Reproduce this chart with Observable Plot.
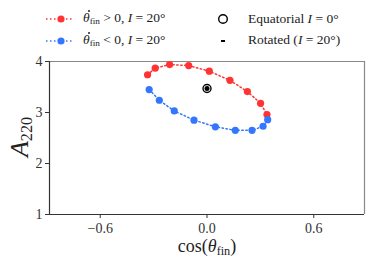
<!DOCTYPE html>
<html><head><meta charset="utf-8">
<script src="https://cdn.jsdelivr.net/npm/d3@7"></script>
<script src="https://cdn.jsdelivr.net/npm/@observablehq/plot@0.6"></script>
<style>
body{margin:0;background:#fff;}
#wrap{position:relative;width:374px;height:269px;font-family:"Liberation Serif","DejaVu Serif",serif;color:#222;}
.ov{position:absolute;white-space:nowrap;}
i{font-style:italic;}
sub{font-size:0.68em;vertical-align:-0.25em;line-height:0;}
.td{position:relative;display:inline-block;}
.td::after{content:"";position:absolute;left:0.36em;top:0.02em;width:2px;height:2px;border-radius:1px;background:#222;}
</style></head>
<body><div id="wrap"></div>
<script>
const posX = [-0.334,-0.291,-0.210,-0.103,0.013,0.129,0.227,0.301,0.337];
const posY = [3.74,3.87,3.94,3.92,3.81,3.63,3.41,3.18,2.96];
const negX = [-0.325,-0.268,-0.184,-0.073,0.047,0.159,0.253,0.315,0.341];
const negY = [3.45,3.24,3.03,2.85,2.72,2.65,2.65,2.73,2.86];
const eqX = [0.0], eqY = [3.47];
const rotX = [0.0], rotY = [3.47];
const xTicks = [-0.6,0,0.6];
const yTicks = [1,2,3,4];
const xDom = [-0.885,0.885], yDom = [1,4];
const red = "#ff3333", blue = "#3377ff";

const pos = posX.map((x,i)=>({x,y:posY[i]}));
const neg = negX.map((x,i)=>({x,y:negY[i]}));
const eq = eqX.map((x,i)=>({x,y:eqY[i]}));
const rot = rotX.map((x,i)=>({x,y:rotY[i]}));
const xf = d=>d===0?"0.0":d3.format(".1f")(d).replace("-","−");

const chart = Plot.plot({
  width:374, height:269,
  marginLeft:49, marginRight:10, marginTop:61, marginBottom:55,
  x:{domain:xDom, label:null},
  y:{domain:yDom, label:null},
  style:{fontFamily:"Liberation Serif, DejaVu Serif, serif", fontSize:"14px", color:"#333", background:"#fff"},
  marks:[
    Plot.axisX({ticks:xTicks, tickSize:4, tickPadding:5, fontSize:14, label:null, tickFormat:xf, stroke:"#333"}),
    Plot.axisY({ticks:yTicks, tickSize:4, tickPadding:3, fontSize:14, label:null, tickFormat:d3.format("d"), stroke:"#333"}),
    Plot.ruleY([yDom[1]], {stroke:"#888", strokeWidth:1.2}),
    Plot.ruleX([xDom[1]], {stroke:"#888", strokeWidth:1.2}),
    Plot.ruleX([xDom[0]], {stroke:"#333", strokeWidth:1.2}),
    Plot.ruleY([yDom[0]], {stroke:"#333", strokeWidth:1.2}),
    Plot.line(pos, {x:"x", y:"y", stroke:red, strokeWidth:1.5, strokeDasharray:"1.5,2.5"}),
    Plot.line(neg, {x:"x", y:"y", stroke:blue, strokeWidth:1.5, strokeDasharray:"1.5,2.5"}),
    Plot.dot(pos, {x:"x", y:"y", r:3.6, fill:red}),
    Plot.dot(neg, {x:"x", y:"y", r:3.6, fill:blue}),
    Plot.dot(eq, {x:"x", y:"y", r:4, stroke:"#000", strokeWidth:1.4, fill:"none"}),
    Plot.dot(rot, {x:"x", y:"y", r:2.5, fill:"#000"})
  ]
});
const wrap = document.getElementById("wrap");
wrap.appendChild(chart);
chart.style.position="absolute"; chart.style.left="0"; chart.style.top="0";

function add(html, css){const d=document.createElement("div");d.className="ov";d.innerHTML=html;Object.assign(d.style,css);wrap.appendChild(d);return d;}
function legLine(color, top){
  const s=`<svg width="30" height="10" style="position:absolute;left:45px;top:${top}px"><line x1="1" y1="5" x2="29" y2="5" stroke="${color}" stroke-width="1.5" stroke-dasharray="1.5,2.5"/><circle cx="16" cy="5" r="3.6" fill="${color}"/></svg>`;
  wrap.insertAdjacentHTML("beforeend", s);
}
legLine(red, 14); legLine(blue, 36);
const thetaDot = `<span class="td"><i>θ</i></span>`;
add(`${thetaDot}<sub>fin</sub> &gt; 0, <i>I</i> = 20°`, {left:"83px", top:"10px", fontSize:"13.5px"});
add(`${thetaDot}<sub>fin</sub> &lt; 0, <i>I</i> = 20°`, {left:"83px", top:"32px", fontSize:"13.5px"});
wrap.insertAdjacentHTML("beforeend", `<svg width="14" height="14" style="position:absolute;left:216px;top:12px"><circle cx="7" cy="7" r="4.3" fill="none" stroke="#000" stroke-width="1.4"/></svg>`);
wrap.insertAdjacentHTML("beforeend", `<svg width="14" height="14" style="position:absolute;left:216px;top:34px"><rect x="5" y="6" width="4" height="2" fill="#000"/></svg>`);
add(`Equatorial <i>I</i> = 0°`, {left:"248px", top:"11px", fontSize:"13.5px"});
add(`Rotated (<i>I</i> = 20°)`, {left:"248px", top:"32px", fontSize:"13.5px"});
add(`cos(<i>θ</i><sub>fin</sub>)`, {left:"207px", top:"236px", fontSize:"18px", transform:"translateX(-50%)"});
add(`<i>A</i><sub style="font-size:0.62em">220</sub>`, {left:"20px", top:"137px", fontSize:"26px", transform:"translate(-50%,-50%) rotate(-90deg)"});
</script></body></html>
